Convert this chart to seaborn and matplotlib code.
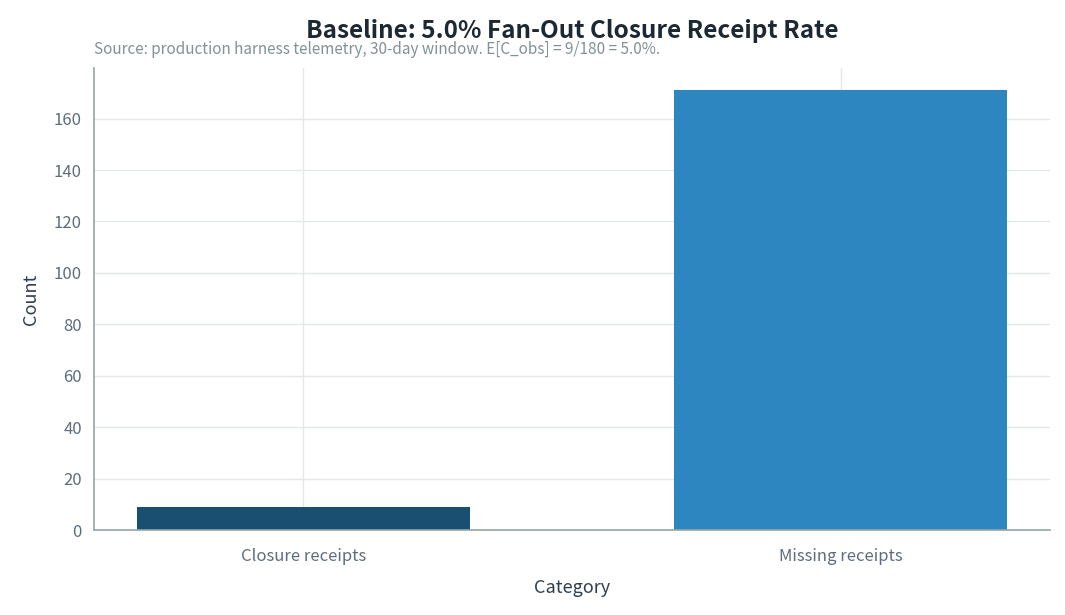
import matplotlib
matplotlib.use('Agg')
import matplotlib.pyplot as plt
import seaborn as sns
import pandas as pd

categories = ['Closure receipts', 'Missing receipts']
counts = [9, 171]
bar_colors = ['#1b4f72', '#2e86c1']

sns.set_style('whitegrid')
plt.rcParams['font.family'] = ['Noto Sans CJK KR', 'DejaVu Sans']

df = pd.DataFrame({'Category': categories, 'Count': counts})

fig, ax = plt.subplots(figsize=(10.65, 6.15), dpi=100)
fig.subplots_adjust(left=0.088, right=0.986, top=0.889, bottom=0.138)

sns.barplot(data=df, x='Category', y='Count', hue='Category', palette=bar_colors,
            width=0.62, legend=False, ax=ax, saturation=1, linewidth=0)

ax.set_xlim(-0.39, 1.39)
ax.set_ylim(0, 179.55)
ax.grid(True, color='#e5e8e8', linewidth=1)
ax.set_axisbelow(True)
for s in ['top', 'right']:
    ax.spines[s].set_visible(False)
for s in ['left', 'bottom']:
    ax.spines[s].set_color('#95a5a6')
    ax.spines[s].set_linewidth(1.2)
ax.tick_params(axis='both', colors='#5d6d7e', labelsize=12, length=5, width=1.2,
               direction='out')
ax.tick_params(axis='x', pad=8)
ax.set_xlabel('Category', fontsize=13, color='#2c3e50', labelpad=10)
ax.set_ylabel('Count', fontsize=13, color='#2c3e50', labelpad=10)

# title centred over the axes, subtitle left-aligned under it
ax.set_title('Baseline: 5.0% Fan-Out Closure Receipt Rate', fontsize=17.5,
             fontweight='semibold', color='#1c2833', pad=22)
ax.text(0.0, 1.022, 'Source: production harness telemetry, 30-day window. E[C_obs] = 9/180 = 5.0%.',
        transform=ax.transAxes, fontsize=11, color='#839192', ha='left', va='bottom')

fig.savefig('out.png', dpi=100)
